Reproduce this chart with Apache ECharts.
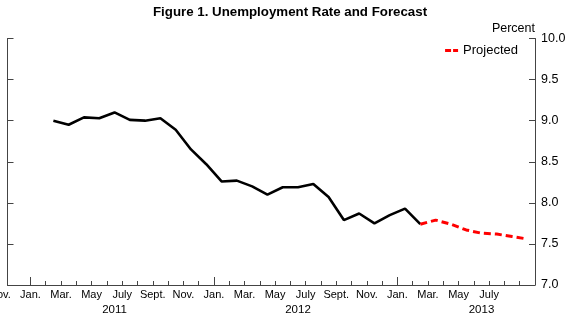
<!DOCTYPE html>
<html>
<head>
<meta charset="utf-8">
<script src="https://cdn.jsdelivr.net/npm/echarts@6/dist/echarts.min.js"></script>
<style>
  html, body { margin: 0; padding: 0; background: #fff; }
  #chart { width: 580px; height: 324px; }
</style>
</head>
<body>
<div id="chart"></div>
<script>
// ---- data ----
const titleText = 'Figure 1. Unemployment Rate and Forecast';
const axisOrigin = '2010-11';          // month at index 0 (tick = start of month)
const actualStart = '2011-02';
const actualValues = [9.00, 8.95, 9.04, 9.03, 9.10, 9.01, 9.00, 9.03, 8.89, 8.65, 8.47,
                      8.26, 8.27, 8.20, 8.10, 8.19, 8.19, 8.23, 8.07, 7.79, 7.87, 7.75, 7.85,
                      7.93, 7.74];
const projectedStart = '2013-02';
const projectedValues = [7.74, 7.79, 7.74, 7.67, 7.63, 7.62, 7.59, 7.56];
const monthLabels = ['Nov.', 'Jan.', 'Mar.', 'May', 'July', 'Sept.',
                     'Nov.', 'Jan.', 'Mar.', 'May', 'July', 'Sept.',
                     'Nov.', 'Jan.', 'Mar.', 'May', 'July'];
const yearLabels = ['2011', '2012', '2013'];
const yTicks = ['7.0', '7.5', '8.0', '8.5', '9.0', '9.5', '10.0'];

// ---- helpers: month string -> index on axis (month start) ----
function monthIndex(s) {
  const [y, m] = s.split('-').map(Number);
  const [y0, m0] = axisOrigin.split('-').map(Number);
  return (y - y0) * 12 + (m - m0);
}
function toPoints(start, vals) {
  const s = monthIndex(start);
  return vals.map((v, i) => [s + i + 0.5, v]);   // plotted at mid-month
}
const labelIdx = monthLabels.map((_, i) => i * 2);
const yearIdx = yearLabels.map(y => monthIndex(y + '-01') + 5.5);
const janIdx = yearLabels.map(y => monthIndex(y + '-01'));
const monthTickIdx = [];
for (let i = monthIndex('2011-01'); i < 35; i++) monthTickIdx.push(i);

const FONT = 'Liberation Sans, Arial, Helvetica, sans-serif';
const AX = '#444';

// plot frame
const gl = 7.5, gr = 535, gt = 38.5, gb = 285;
const xMin = 0.5, xMax = 35;
const pxPerMonth = (gr - gl) / (xMax - xMin);
const gl2 = gl - (xMin - 0) * pxPerMonth;

const chart = echarts.init(document.getElementById('chart'), null, { renderer: 'canvas' });
chart.setOption({
  animation: false,
  backgroundColor: '#fff',
  textStyle: { fontFamily: FONT },
  title: {
    text: titleText, left: 'center', top: 1,
    textStyle: { fontFamily: FONT, fontSize: 13.3, fontWeight: 'bold', color: '#000' }
  },
  legend: {
    data: [{ name: 'Projected', icon: 'path://M0 0H6V3H0Z M8 0H13V3H8Z' }],
    right: 57, top: 39,
    itemWidth: 13, itemHeight: 3, itemGap: 4,
    itemStyle: { color: '#ff0000' },
    textStyle: { fontFamily: FONT, fontSize: 13, color: '#000' }
  },
  grid: [
    { left: gl, right: 580 - gr, top: gt, bottom: 324 - gb, containLabel: false, outerBoundsMode: 'none' },
    { left: gl2, right: 580 - gr, top: gt, bottom: 324 - gb, containLabel: false, outerBoundsMode: 'none' }
  ],
  xAxis: [
    {
      gridIndex: 0, type: 'value', min: xMin, max: xMax, position: 'bottom',
      axisLine: { show: true, lineStyle: { color: AX, width: 1 } },
      axisTick: { show: true, inside: true, length: 4, customValues: monthTickIdx, lineStyle: { color: AX, width: 1 } },
      axisLabel: { show: false },
      splitLine: { show: false }
    },
    {
      gridIndex: 1, type: 'value', min: 0, max: xMax, position: 'bottom',
      axisLine: { show: false },
      axisTick: { show: true, inside: true, length: 8, customValues: janIdx, lineStyle: { color: AX } },
      axisLabel: {
        show: true, customValues: labelIdx, margin: 4,
        fontFamily: FONT, fontSize: 11, color: '#000',
        formatter: v => monthLabels[Math.round(v / 2)]
      },
      splitLine: { show: false }
    },
    {
      gridIndex: 1, type: 'value', min: 0, max: xMax, position: 'bottom', offset: 15,
      axisLine: { show: false }, axisTick: { show: false },
      axisLabel: {
        show: true, customValues: yearIdx, margin: 4,
        fontFamily: FONT, fontSize: 11.5, color: '#000',
        formatter: v => yearLabels[yearIdx.indexOf(v)]
      },
      splitLine: { show: false }
    }
  ],
  yAxis: [
    {
      gridIndex: 0, type: 'value', position: 'right', min: 7, max: 10, interval: 0.5,
      name: 'Percent', nameLocation: 'end', nameGap: 3,
      nameTextStyle: { fontFamily: FONT, fontSize: 12.5, color: '#000', align: 'right' },
      axisLine: { show: true, lineStyle: { color: AX, width: 1 } },
      axisTick: { show: true, inside: true, length: 6, lineStyle: { color: AX } },
      axisLabel: {
        show: true, margin: 6, fontFamily: FONT, fontSize: 12.5, color: '#000',
        formatter: v => yTicks[Math.round((v - 7) / 0.5)]
      },
      splitLine: { show: false }
    },
    {
      gridIndex: 0, type: 'value', position: 'left', min: 7, max: 10, interval: 0.5,
      axisLine: { show: true, lineStyle: { color: AX, width: 1 } },
      axisTick: { show: true, inside: true, length: 6, lineStyle: { color: AX } },
      axisLabel: { show: false }, splitLine: { show: false }
    },
    { gridIndex: 1, type: 'value', min: 7, max: 10, show: false }
  ],
  series: [
    {
      name: 'Actual', type: 'line', xAxisIndex: 0, yAxisIndex: 0,
      data: toPoints(actualStart, actualValues), symbol: 'none',
      lineStyle: { color: '#000', width: 2.6 }, itemStyle: { color: '#000' }
    },
    {
      name: 'Projected', type: 'line', xAxisIndex: 0, yAxisIndex: 0,
      data: toPoints(projectedStart, projectedValues), symbol: 'none',
      lineStyle: { color: '#ff0000', width: 3, type: [7, 4] }, itemStyle: { color: '#ff0000' }
    }
  ]
});
</script>
</body>
</html>
